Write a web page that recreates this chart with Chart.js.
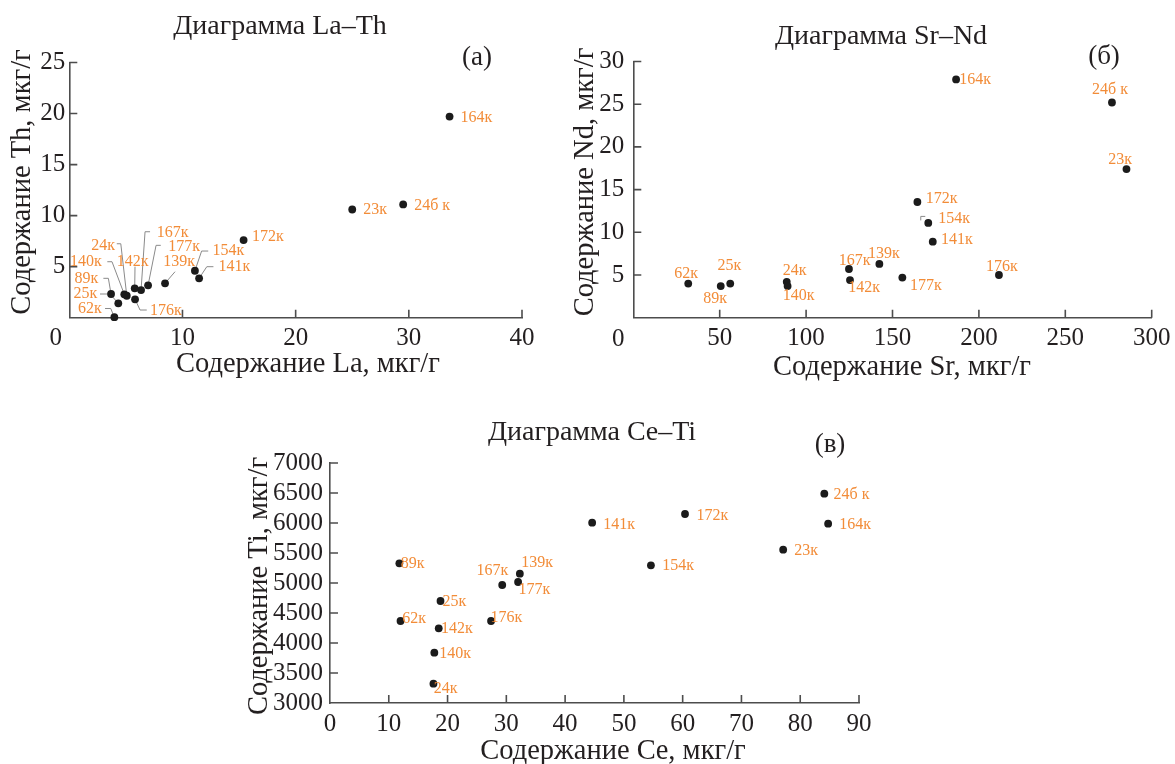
<!DOCTYPE html>
<html lang="ru">
<head>
<meta charset="utf-8">
<title>Диаграммы La–Th, Sr–Nd, Ce–Ti</title>
<script src="https://cdn.jsdelivr.net/npm/chart.js@4.4.1/dist/chart.umd.min.js"></script>
<style>
  html, body { margin: 0; padding: 0; background: #fff; }
  body { width: 1175px; height: 764px; position: relative; overflow: hidden; }
  canvas { position: absolute; }
</style>
</head>
<body>
<canvas id="chart-a" width="560" height="385" style="left:0;top:0"></canvas>
<canvas id="chart-b" width="615" height="385" style="left:560px;top:0"></canvas>
<canvas id="chart-c" width="670" height="364" style="left:230px;top:400px"></canvas>
<script>
// ============================================================
// DATA
// ============================================================
const samples = ['23к', '24б к', '164к', '172к', '154к', '141к', '139к', '177к',
                 '167к', '142к', '176к', '24к', '140к', '89к', '25к', '62к'];

const laValues = [25.0, 29.5, 33.6, 15.4, 11.1, 11.47, 8.46, 6.96, 6.34, 5.78, 5.81, 5.08, 4.86, 3.69, 4.33, 3.98];
const thValues = [10.6, 11.1, 19.7, 7.6, 4.6, 3.86, 3.37, 3.17, 2.71, 2.88, 1.80, 2.15, 2.29, 2.32, 1.41, 0.05];

const srValues = [285.4, 277.0, 186.8, 164.4, 170.7, 173.3, 142.4, 155.7, 124.8, 125.4, 211.6, 88.8, 89.3, 50.6, 56.1, 31.8];
const ndValues = [17.4, 25.2, 27.9, 13.55, 11.1, 8.9, 6.3, 4.7, 5.7, 4.4, 5.0, 4.2, 3.7, 3.7, 4.0, 4.0];

const ceValues = [77.1, 84.1, 84.75, 60.4, 54.6, 44.6, 32.3, 32.0, 29.3, 18.5, 27.4, 17.6, 17.75, 11.8, 18.8, 12.0];
const tiValues = [5555, 6488, 5988, 6150, 5295, 6005, 5155, 5017, 4967, 4245, 4367, 3322, 3838, 5328, 4700, 4367];

const laTicks = [0, 10, 20, 30, 40];
const thTicks = [0, 5, 10, 15, 20, 25];
const srTicks = [0, 50, 100, 150, 200, 250, 300];
const ndTicks = [0, 5, 10, 15, 20, 25, 30];
const ceTicks = [0, 10, 20, 30, 40, 50, 60, 70, 80, 90];
const tiTicks = [3000, 3500, 4000, 4500, 5000, 5500, 6000, 6500, 7000];

// ============================================================
// STYLE
// ============================================================
const SERIF = '"Liberation Serif", "Times New Roman", serif';
const INK = '#231f20';
const AXIS = '#4d4d4d';
const ORANGE = '#f28c38';
const LEAD = '#8a8a8a';
const TICK_LEN = 8;
const TITLE_SIZE = 28;
const AXIS_TITLE_SIZE = 28.5;

// label placement next to each dot: align, offset (px), optional leader polyline
const placeA = {
    '23к':   { al: 'left', dx: 11, dy: 0.5 },
    '24б к': { al: 'left', dx: 11, dy: 1 },
    '164к':  { al: 'left', dx: 11, dy: 1 },
    '172к':  { al: 'left', dx: 8.5, dy: -3.5 },
    '154к':  { al: 'left', dx: 17.7, dy: -19.7, lead: [[0, 0], [6.7, -19.7], [13.3, -19.7]] },
    '141к':  { al: 'left', dx: 19.3, dy: -11.6, lead: [[0, 0], [7.7, -11.6], [14.3, -11.6]] },
    '139к':  { al: 'center', dx: 14, dy: -21.6, lead: [[0, 0], [10, -11.6]] },
    '177к':  { al: 'left', dx: 20.3, dy: -38.6, lead: [[0, 0], [8, -40], [12.7, -40]] },
    '167к':  { al: 'left', dx: 15.7, dy: -57.7, lead: [[0, 0], [4, -58.3], [9, -58.3]] },
    '142к':  { al: 'center', dx: -2.2, dy: -26.6, lead: [[0, 0], [0.3, -21.6]] },
    '176к':  { al: 'left', dx: 15, dy: 11.7, lead: [[0, 0], [5, 10.7], [11.7, 10.7]] },
    '24к':   { al: 'right', dx: -11.7, dy: -50, lead: [[0, 0], [-6, -52], [-10, -52]] },
    '140к':  { al: 'right', dx: -22.6, dy: -32.6, lead: [[0, 0], [-12.3, -32.6], [-17, -32.6]] },
    '89к':   { al: 'right', dx: -12.7, dy: -15.7, lead: [[0, 0], [-2.7, -15.7], [-7.7, -15.7]] },
    '25к':   { al: 'right', dx: -21, dy: -9.3, lead: [[0, 0], [-8.3, -9.3], [-18.3, -9.3]] },
    '62к':   { al: 'right', dx: -12.6, dy: -8.7, lead: [[0, 0], [-3.6, -8.7], [-9.3, -8.7]] }
};

const placeB = {
    '23к':   { al: 'center', dx: -6.3, dy: -9.3 },
    '24б к': { al: 'center', dx: -2, dy: -13 },
    '164к':  { al: 'left', dx: 3.2, dy: 0.7 },
    '172к':  { al: 'left', dx: 8.4, dy: -3 },
    '154к':  { al: 'left', dx: 10, dy: -4.3, lead: [[-7.5, -2.5], [-7.5, -6.5], [-3, -6.5]] },
    '141к':  { al: 'left', dx: 8.3, dy: -1.7 },
    '139к':  { al: 'center', dx: 4.5, dy: -9.7 },
    '177к':  { al: 'left', dx: 7.7, dy: 8 },
    '167к':  { al: 'center', dx: 5.7, dy: -8 },
    '142к':  { al: 'left', dx: -1.7, dy: 7.7 },
    '176к':  { al: 'center', dx: 3, dy: -8 },
    '24к':   { al: 'center', dx: 8, dy: -11 },
    '140к':  { al: 'center', dx: 11.1, dy: 9.4 },
    '89к':   { al: 'center', dx: -5.7, dy: 12.3 },
    '25к':   { al: 'center', dx: -0.8, dy: -17.7 },
    '62к':   { al: 'center', dx: -2, dy: -9.7 }
};

const placeC = {
    '23к':   { al: 'left', dx: 11, dy: 0.6 },
    '24б к': { al: 'left', dx: 9.3, dy: 0.6 },
    '164к':  { al: 'left', dx: 11, dy: 0.6 },
    '172к':  { al: 'left', dx: 11.4, dy: 1.7 },
    '154к':  { al: 'left', dx: 11.4, dy: 0 },
    '141к':  { al: 'left', dx: 11, dy: 1.6 },
    '139к':  { al: 'left', dx: 1.4, dy: -11 },
    '177к':  { al: 'left', dx: 0.3, dy: 8 },
    '167к':  { al: 'right', dx: 6, dy: -14 },
    '142к':  { al: 'left', dx: 2.3, dy: 0.7 },
    '176к':  { al: 'left', dx: -0.6, dy: -2.7 },
    '24к':   { al: 'left', dx: 0.3, dy: 5.6 },
    '140к':  { al: 'left', dx: 5, dy: 1.3 },
    '89к':   { al: 'left', dx: 1.4, dy: 0 },
    '25к':   { al: 'left', dx: 2, dy: 1 },
    '62к':   { al: 'left', dx: 1.6, dy: -1.7 }
};

// ============================================================
// PLUGIN: inward ticks, titles, point labels with leaders
// ============================================================
const panelDecor = {
    id: 'panelDecor',

    beforeDatasetsDraw(chart, args, opts) {
        const ctx = chart.ctx;
        const pts = chart.getDatasetMeta(0).data;
        ctx.save();
        ctx.strokeStyle = LEAD;
        ctx.lineWidth = 1;
        samples.forEach((name, i) => {
            const p = opts.place[name];
            if (!p || !p.lead) return;
            ctx.beginPath();
            p.lead.forEach(([dx, dy], k) => {
                const x = pts[i].x + dx, y = pts[i].y + dy;
                if (k) ctx.lineTo(x, y); else ctx.moveTo(x, y);
            });
            ctx.stroke();
        });
        ctx.restore();
    },

    afterDraw(chart, args, opts) {
        const { ctx, chartArea: ca, scales: { x, y } } = chart;
        ctx.save();

        // tick marks point into the plot
        ctx.strokeStyle = AXIS;
        ctx.lineWidth = 1.6;
        ctx.beginPath();
        x.ticks.forEach(t => {
            if (t.value === x.min) return;
            const px = x.getPixelForValue(t.value);
            ctx.moveTo(px, ca.bottom);
            ctx.lineTo(px, ca.bottom - TICK_LEN);
        });
        y.ticks.forEach(t => {
            if (t.value === y.min) return;
            const py = y.getPixelForValue(t.value);
            ctx.moveTo(ca.left, py);
            ctx.lineTo(ca.left + TICK_LEN, py);
        });
        ctx.stroke();

        // titles, panel letter, axis names
        ctx.fillStyle = INK;
        ctx.textAlign = 'center';
        ctx.textBaseline = 'middle';
        opts.texts.forEach(t => {
            ctx.save();
            ctx.font = `${t.size}px ${SERIF}`;
            ctx.translate(t.x, t.y);
            if (t.rot) ctx.rotate(t.rot);
            ctx.fillText(t.text, 0, 0);
            ctx.restore();
        });

        // sample names
        const pts = chart.getDatasetMeta(0).data;
        ctx.font = `16px ${SERIF}`;
        ctx.fillStyle = ORANGE;
        samples.forEach((name, i) => {
            const p = opts.place[name] || { al: 'left', dx: 8, dy: 0 };
            ctx.textAlign = p.al;
            ctx.fillText(name, pts[i].x + p.dx, pts[i].y + p.dy);
        });

        ctx.restore();
    }
};

// ============================================================
// CHART FACTORY
// ============================================================
function makeAxis(ticks, size, pad, hideMin) {
    return {
        type: 'linear',
        min: ticks[0],
        max: ticks[ticks.length - 1],
        afterBuildTicks: s => { s.ticks = ticks.map(v => ({ value: v })); },
        afterFit: s => {
            if (s.isHorizontal()) s.height = size; else s.width = size;
            s.paddingLeft = s.paddingRight = s.paddingTop = s.paddingBottom = 0;
        },
        grid: { display: false, drawTicks: false },
        border: { display: true, color: AXIS, width: 1.6 },
        ticks: {
            color: INK,
            font: { family: SERIF, size: 25 },
            padding: pad,
            maxRotation: 0,
            autoSkip: false,
            callback: v => (hideMin && v === ticks[0]) ? '' : String(v)
        }
    };
}

function makePanel(id, cfg) {
    return new Chart(document.getElementById(id), {
        type: 'scatter',
        data: {
            datasets: [{
                data: cfg.xs.map((v, i) => ({ x: v, y: cfg.ys[i] })),
                pointRadius: 3.9,
                pointBackgroundColor: '#1b1b1b',
                pointBorderWidth: 0,
                clip: false
            }]
        },
        options: {
            responsive: false,
            animation: false,
            events: [],
            layout: { padding: cfg.padding },
            plugins: {
                legend: { display: false },
                tooltip: { enabled: false },
                panelDecor: { place: cfg.place, texts: cfg.texts }
            },
            scales: {
                x: makeAxis(cfg.xTicks, cfg.xSize, 6, cfg.hideMin),
                y: makeAxis(cfg.yTicks, cfg.ySize, cfg.yPad, cfg.hideMin)
            }
        },
        plugins: [panelDecor]
    });
}

const UP = -Math.PI / 2;

makePanel('chart-a', {
    xs: laValues, ys: thValues, xTicks: laTicks, yTicks: thTicks,
    padding: { left: 0, top: 62.5, right: 38, bottom: 0 },
    xSize: 67.3, ySize: 69.3, yPad: 4, hideMin: true, place: placeA,
    texts: [
        { text: 'Диаграмма La–Th', x: 280, y: 27, size: TITLE_SIZE },
        { text: '(а)', x: 477, y: 58, size: 27 },
        { text: 'Содержание La, мкг/г', x: 308, y: 365, size: AXIS_TITLE_SIZE },
        { text: 'Содержание Th, мкг/г', x: 23, y: 182, size: AXIS_TITLE_SIZE, rot: UP },
        { text: '0', x: 55.7, y: 338.5, size: 25 }
    ]
});

makePanel('chart-b', {
    xs: srValues, ys: ndValues, xTicks: srTicks, yTicks: ndTicks,
    padding: { left: 0, top: 61.5, right: 23.3, bottom: 0 },
    xSize: 67.3, ySize: 73.3, yPad: 9, hideMin: true, place: placeB,
    texts: [
        { text: 'Диаграмма Sr–Nd', x: 321, y: 37, size: TITLE_SIZE },
        { text: '(б)', x: 544, y: 57, size: 27 },
        { text: 'Содержание Sr, мкг/г', x: 342, y: 368, size: AXIS_TITLE_SIZE },
        { text: 'Содержание Nd, мкг/г', x: 26, y: 182, size: AXIS_TITLE_SIZE, rot: UP },
        { text: '0', x: 58.3, y: 339.5, size: 25 }
    ]
});

makePanel('chart-c', {
    xs: ceValues, ys: tiValues, xTicks: ceTicks, yTicks: tiTicks,
    padding: { left: 0, top: 63, right: 41, bottom: 0 },
    xSize: 61, ySize: 100, yPad: 7, hideMin: false, place: placeC,
    texts: [
        { text: 'Диаграмма Ce–Ti', x: 362, y: 33, size: TITLE_SIZE },
        { text: '(в)', x: 600, y: 45, size: 27 },
        { text: 'Содержание Ce, мкг/г', x: 383, y: 352, size: AXIS_TITLE_SIZE },
        { text: 'Содержание Ti, мкг/г', x: 30, y: 186, size: AXIS_TITLE_SIZE, rot: UP }
    ]
});
</script>
</body>
</html>
